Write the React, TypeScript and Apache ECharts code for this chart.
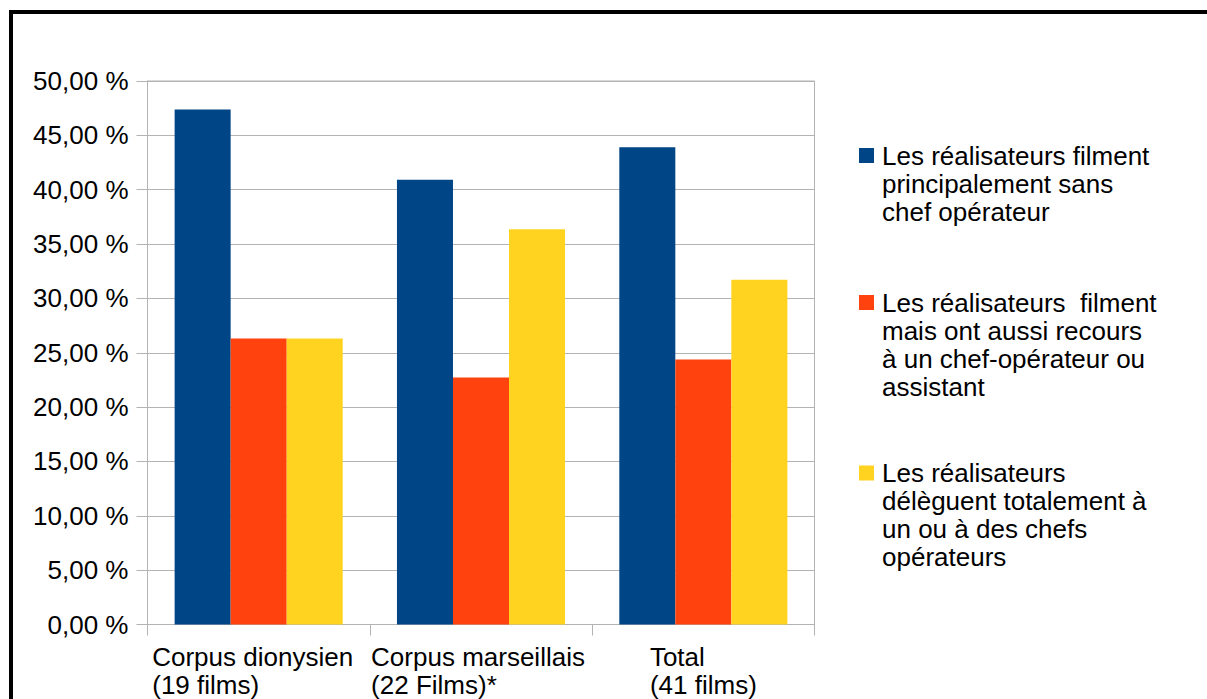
import React, { useEffect, useRef } from "react";
import * as echarts from "echarts";

const categories = ["Corpus dionysien\n(19 films)", "Corpus marseillais\n(22 Films)*", "Total\n(41 films)"];
const seriesNames = [
  "Les réalisateurs filment principalement sans chef opérateur",
  "Les réalisateurs  filment mais ont aussi recours à un chef-opérateur ou assistant",
  "Les réalisateurs délèguent totalement à un ou à des chefs opérateurs",
];
const legendLines = [
  ["Les réalisateurs filment", "principalement sans", "chef opérateur"],
  ["Les réalisateurs  filment", "mais ont aussi recours", "à un chef-opérateur ou", "assistant"],
  ["Les réalisateurs", "délèguent totalement à", "un ou à des chefs", "opérateurs"],
];
const sansChef = [47.37, 40.91, 43.9];
const avecChef = [26.32, 22.73, 24.39];
const delegue = [26.32, 36.36, 31.71];
const colors = ["#004586", "#ff420e", "#ffd320"];

const FONT = "'Liberation Sans', Arial, sans-serif";
const FS = 26;
const LH = 28;

export default function App() {
  const ref = useRef<HTMLDivElement>(null);
  useEffect(() => {
    if (!ref.current) return;
    const chart = echarts.init(ref.current, null, { renderer: "svg" });
    const values = [sansChef, avecChef, delegue];
    const legendTops = [85.5, 204.5, 375];
    const legends = seriesNames.map((name, i) => {
      const n = legendLines[i].length;
      return {
        data: [name],
        orient: "vertical",
        left: 859,
        top: legendTops[i],
        padding: 0,
        itemWidth: 15,
        itemHeight: 15,
        icon: "rect",
        selectedMode: false,
        formatter: () => "\n".repeat(n - 1) + legendLines[i].join("\n"),
        textStyle: {
          fontFamily: FONT,
          fontSize: FS,
          lineHeight: LH,
          color: "#000",
          padding: [0, 0, 0, 3],
          backgroundColor: "transparent",
        },
      };
    });
    const labelShift = [12, 6, 0];
    const rich: Record<string, any> = {};
    labelShift.forEach((p, i) => {
      rich["a" + i] = { fontFamily: FONT, fontSize: FS, lineHeight: LH, color: "#000", align: "left", padding: [0, p, 0, 0] };
    });
    chart.setOption({
      animation: false,
      backgroundColor: "#fff",
      color: colors,
      graphic: [
        {
          type: "rect",
          shape: { x: 11, y: 12, width: 1230, height: 720 },
          style: { fill: "none", stroke: "#000", lineWidth: 4 },
          silent: true,
        },
      ],
      legend: legends,
      grid: {
        left: 147.5,
        right: 392.5,
        top: 81,
        bottom: 74.5,
        show: true,
        borderColor: "#b3b3b3",
        borderWidth: 1,
        containLabel: false,
      },
      xAxis: {
        type: "category",
        data: categories,
        boundaryGap: true,
        axisLine: { lineStyle: { color: "#b3b3b3", width: 1 } },
        axisTick: { show: true, length: 11, alignWithLabel: false, lineStyle: { color: "#b3b3b3" } },
        axisLabel: {
          interval: 0,
          margin: 18,
          align: "center",
          verticalAlign: "top",
          formatter: (v: string, idx: number) =>
            v
              .split("\n")
              .map((s) => `{a${idx}|${s}}`)
              .join("\n"),
          rich,
        },
      },
      yAxis: {
        type: "value",
        min: 0,
        max: 50,
        interval: 5,
        axisLine: { show: true, lineStyle: { color: "#b3b3b3", width: 1 } },
        axisTick: { show: true, length: 11, lineStyle: { color: "#b3b3b3" } },
        splitLine: { show: true, lineStyle: { color: "#b3b3b3", width: 1 } },
        axisLabel: {
          margin: 19,
          fontFamily: FONT,
          fontSize: FS,
          color: "#000",
          formatter: (v: number) => v.toFixed(2).replace(".", ",") + " %",
        },
      },
      series: seriesNames.map((name, i) => ({
        name,
        type: "bar",
        data: values[i],
        barGap: "0%",
        barCategoryGap: "24.4%",
        itemStyle: { color: colors[i] },
      })),
    });
    return () => chart.dispose();
  }, []);
  return (
    <div
      ref={ref}
      style={{ position: "fixed", left: 0, top: 0, width: 1207, height: 699 }}
    />
  );
}
